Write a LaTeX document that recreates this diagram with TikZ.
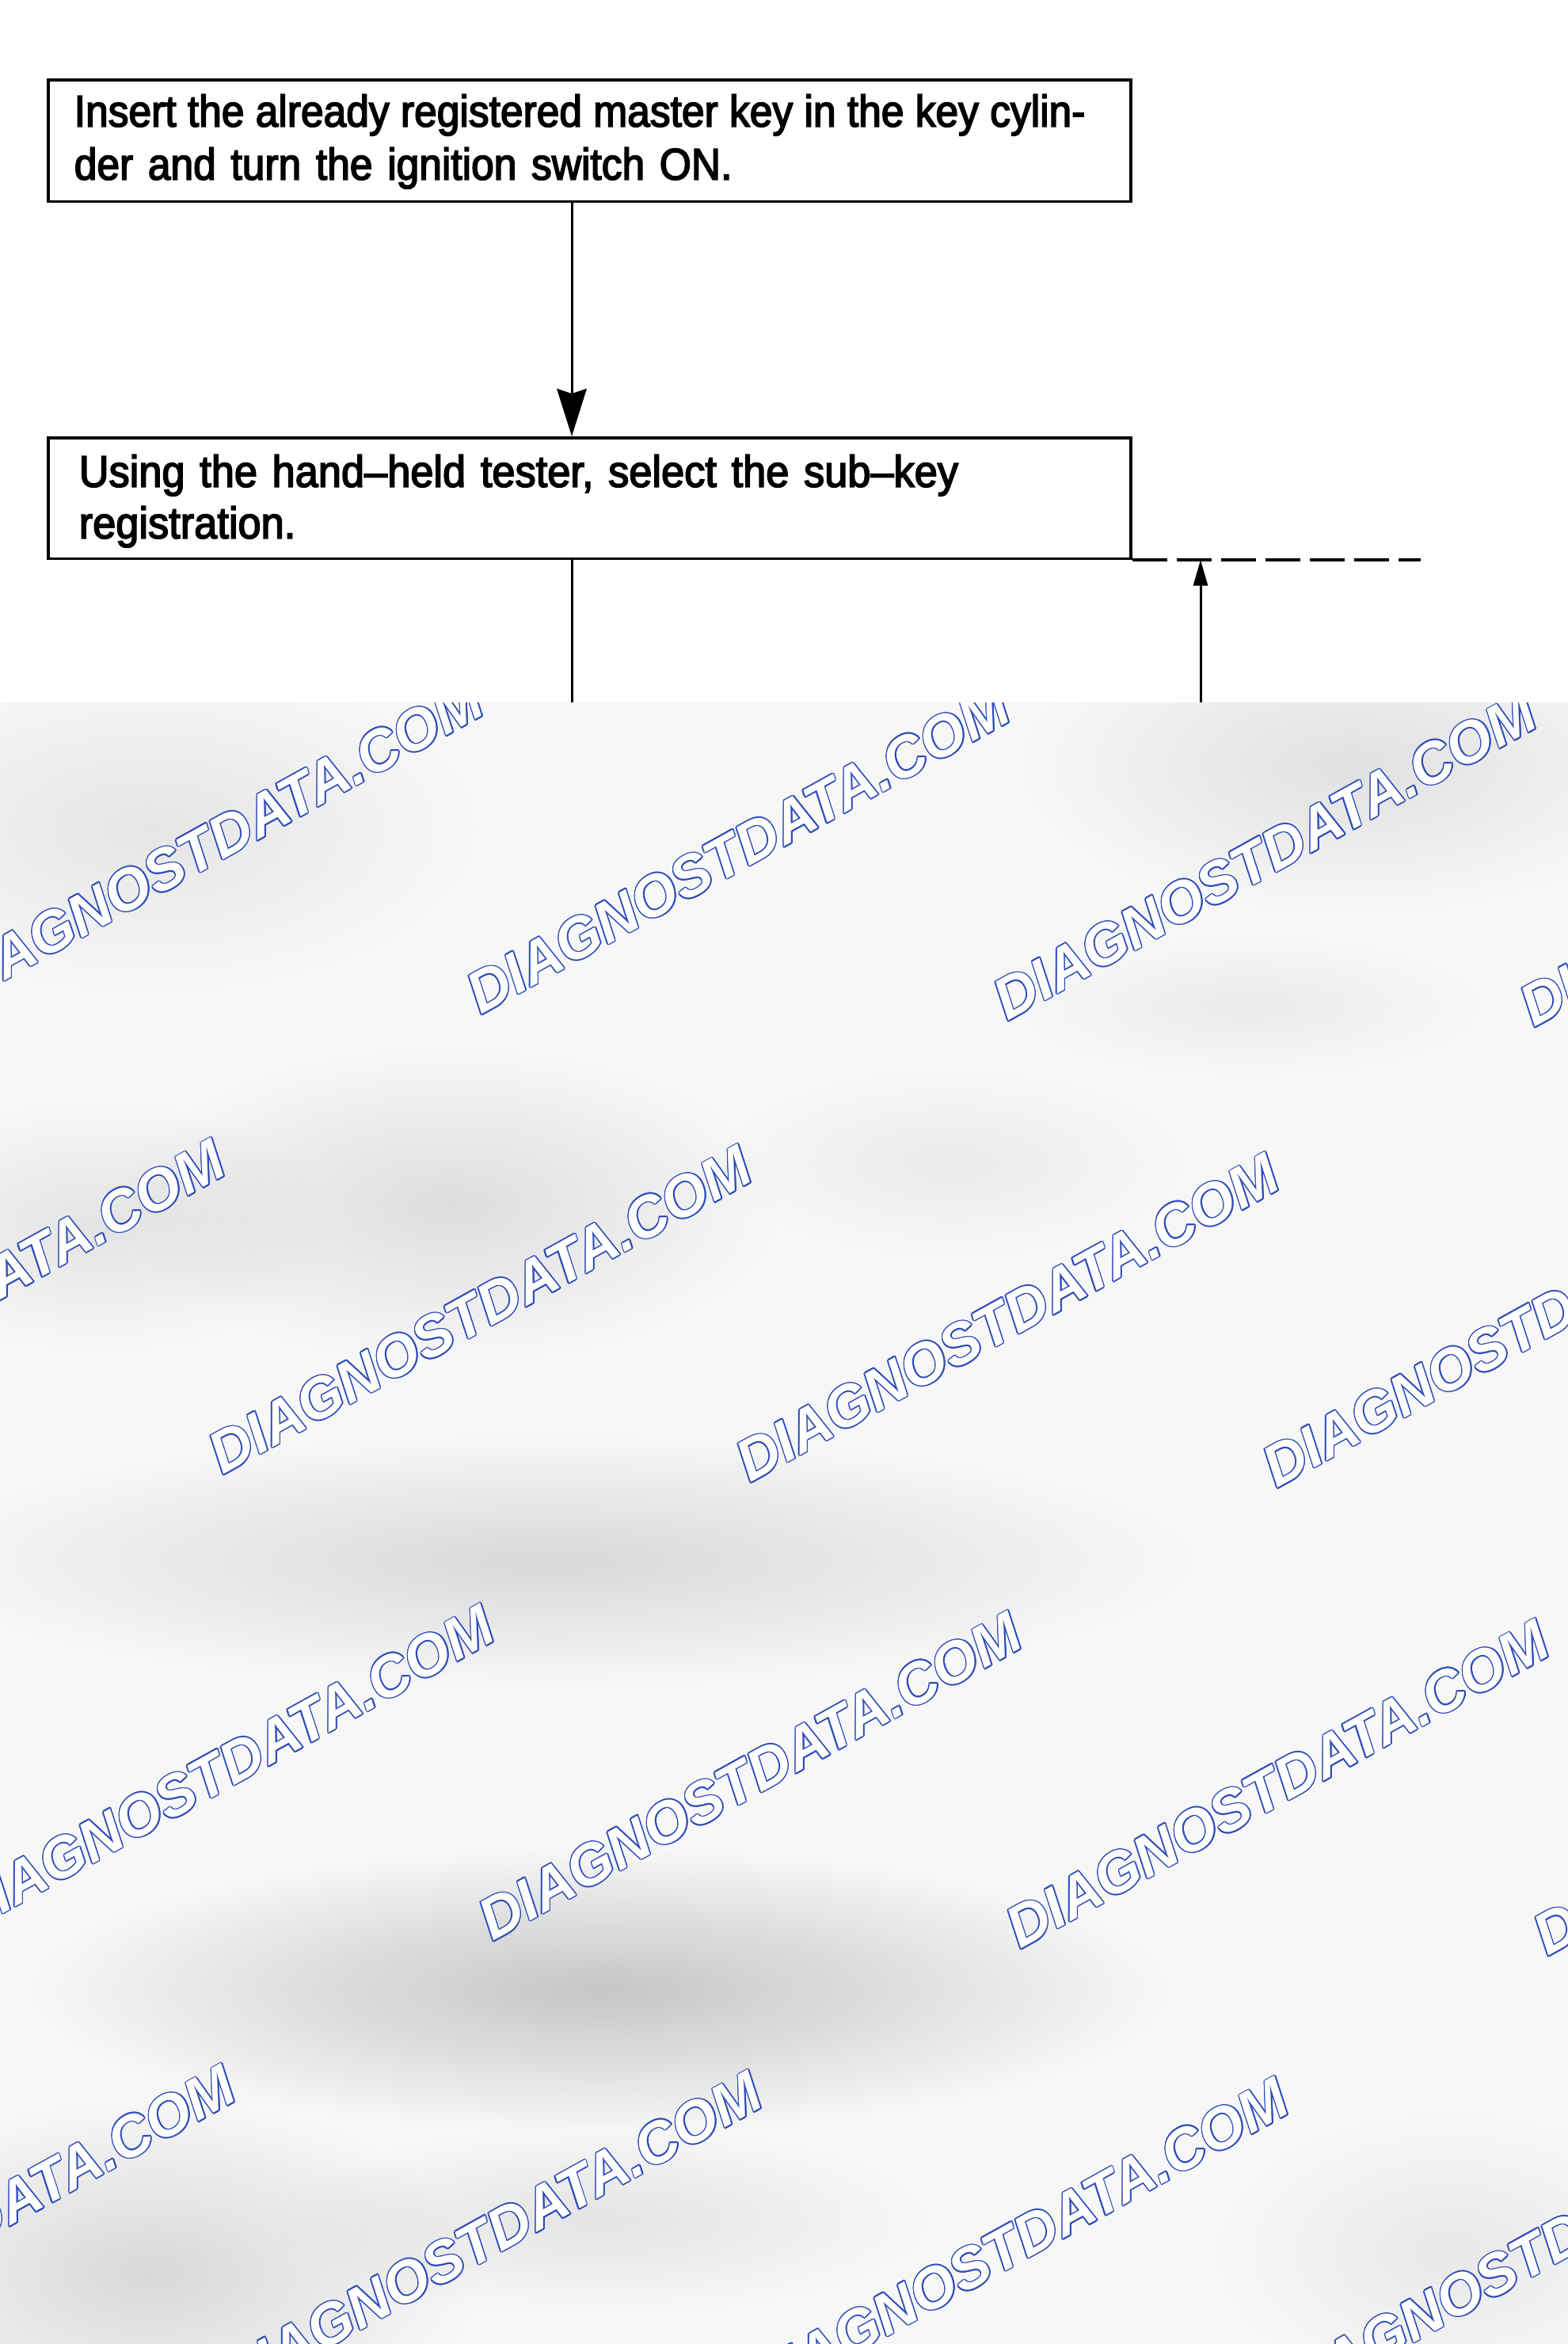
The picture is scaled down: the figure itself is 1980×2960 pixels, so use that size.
\documentclass[tikz,border=0pt]{standalone}
\usepackage{fontspec}
\setmainfont{Liberation Sans}
\newfontfamily\boxfontA{Liberation Sans}[FakeStretch=0.92, FakeBold=3]
\newfontfamily\boxfontB{Liberation Sans}[FakeStretch=0.935, FakeBold=3]
\newfontfamily\wmfont{Liberation Sans}
\usetikzlibrary{arrows.meta,fadings}
\definecolor{wmblue}{RGB}{45,75,185}
\definecolor{gbase}{RGB}{247,247,247}
\tikzfading[name=blobfade, inner color=transparent!0, outer color=transparent!100]
\tikzset{
  stepbox/.style={draw=black, line width=1.4pt, anchor=north west, align=left},
  conn/.style={draw=black, line width=1.2pt},
  headA/.style={-{Stealth[length=24pt, width=15pt, inset=2.4pt]}},
  headB/.style={-{Triangle[length=13pt, width=7.2pt]}},
  dashline/.style={draw=black, line width=1.8pt, dash pattern=on 17.6pt off 4.8pt},
  wmtext/.style={font=\wmfont\bfseries\itshape\fontsize{29.3}{31}\selectfont,
    rotate=29, inner sep=0pt},
  blob/.style={fill=black, path fading=blobfade},
}
\newcommand\wmark[3]{%
  \foreach \a in {0,30,...,330}{%
    \node[wmtext,text=wmblue] (wm#1o\a) at ([shift={(\a:1.5)}]#2,#3) {DIAGNOSTDATA.COM};}%
  \node[wmtext,text=white] (wm#1) at (#2,#3) {DIAGNOSTDATA.COM};}
\begin{document}
\begin{tikzpicture}[x=0.4pt,y=-0.4pt]
\useasboundingbox (0,0) rectangle (1980,2960);
\fill[white] (0,0) rectangle (1980,2960);

\node[stepbox, inner xsep=13.2pt, inner ysep=6.4pt, text width=520.4pt,
  font=\boxfontA\fontsize{22.4}{26.8}\selectfont] (b1) at (59,99)
  {\rule{0pt}{17.2pt}{\spaceskip=0.255em\relax Insert the already registered master key in the key cylin-}\\der and turn the ignition switch ON.};
\node[stepbox, inner xsep=15.6pt, inner ysep=5.6pt, text width=515.6pt,
  font=\boxfontB\fontsize{22.4}{26}\selectfont] (b2) at (59,551)
  {\rule{0pt}{19.2pt}Using the hand–held tester, select the sub–key\\registration.};

\coordinate (colA) at (722,0);
\coordinate (dEnd) at (1794,0);
\coordinate (gA) at (722,890);
\coordinate (gB) at (1516,890);

\draw[conn, headA] (b1.south -| colA) -- (b2.north -| colA);
\draw[conn] (b2.south -| colA) -- (gA);
\draw[conn, headB] (gB) -- (gB |- b2.south);
\draw[dashline] (b2.south east) -- (b2.south east -| dEnd);

% blurred grey lower part
\fill[gbase] (0,887) rectangle (1980,2960);
\begin{scope}
\clip (0,887) rectangle (1980,2960);
\fill[blob, fill opacity=0.10] (568,1522) ellipse [x radius=420, y radius=200];
\fill[blob, fill opacity=0.09] (1705,966) ellipse [x radius=420, y radius=190];
\fill[blob, fill opacity=0.12] (694,1971) ellipse [x radius=820, y radius=160];
\fill[blob, fill opacity=0.20] (758,2513) ellipse [x radius=720, y radius=180];
\fill[blob, fill opacity=0.12] (190,2870) ellipse [x radius=420, y radius=220];
\fill[blob, fill opacity=0.07] (190,1046) ellipse [x radius=420, y radius=210];
\fill[blob, fill opacity=0.08] (126,1548) ellipse [x radius=300, y radius=160];
\fill[blob, fill opacity=0.05] (1200,1469) ellipse [x radius=300, y radius=120];
\fill[blob, fill opacity=0.05] (1578,1270) ellipse [x radius=300, y radius=90];
\fill[blob, fill opacity=0.08] (758,2804) ellipse [x radius=420, y radius=120];
\fill[blob, fill opacity=0.06] (1830,2844) ellipse [x radius=300, y radius=180];

\wmark{a}{267}{1065}
\wmark{b}{932}{1073}
\wmark{c}{1597}{1081}
\wmark{d}{2262}{1089}
\wmark{e}{-59}{1646}
\wmark{f}{606}{1654}
\wmark{g}{1272}{1664}
\wmark{h}{1937}{1671}
\wmark{i}{281}{2234}
\wmark{j}{947}{2243}
\wmark{k}{1613}{2253}
\wmark{l}{2279}{2262}
\wmark{m}{-46}{2815}
\wmark{n}{619}{2823}
\wmark{o}{1284}{2831}
\wmark{p}{1949}{2839}
\end{scope}
\end{tikzpicture}
\end{document}
